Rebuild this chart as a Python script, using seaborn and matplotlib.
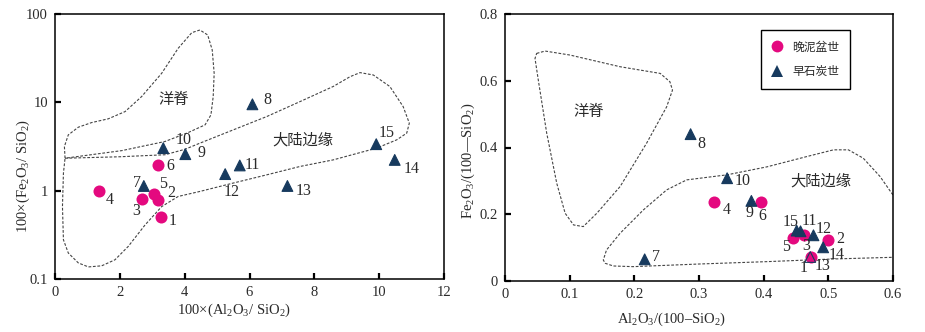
import numpy as np
import pandas as pd
import matplotlib
matplotlib.use("Agg")
import matplotlib.pyplot as plt
from matplotlib.lines import Line2D
from matplotlib.ticker import FixedLocator, FixedFormatter, NullLocator
import seaborn as sns

# ---------------- data ----------------
sample_ids = list(range(1, 16))
periods = ["晚泥盆世"] * 6 + ["早石炭世"] * 9

# left: 100*(Al2O3/SiO2) vs 100*(Fe2O3/SiO2)
left_x = [3.27, 3.18, 2.67, 1.37, 3.05, 3.17, 2.74, 6.09, 4.02, 3.34, 5.70, 5.25, 7.17, 10.48, 9.91]
left_y = [0.50, 0.79, 0.80, 1.00, 0.91, 1.93, 1.13, 9.5, 2.59, 3.03, 1.93, 1.54, 1.13, 2.23, 3.36]

# right: Al2O3/(100-SiO2) vs Fe2O3/(100-SiO2)
right_x = [0.473, 0.499, 0.4625, 0.323, 0.445, 0.3955, 0.216, 0.287, 0.381, 0.3435, 0.457, 0.477, 0.472, 0.492, 0.451]
right_y = [0.071, 0.122, 0.137, 0.238, 0.129, 0.236, 0.065, 0.440, 0.240, 0.308, 0.149, 0.137, 0.072, 0.101, 0.151]

left_xticks = [0, 2, 4, 6, 8, 10, 12]
left_yticks = [0.1, 1, 10, 100]
left_yticklabels = ["0.1", "1", "10", "100"]
right_xticks = [0, 0.1, 0.2, 0.3, 0.4, 0.5, 0.6]
right_xticklabels = ["0", "0.1", "0.2", "0.3", "0.4", "0.5", "0.6"]
right_yticks = [0, 0.2, 0.4, 0.6, 0.8]
right_yticklabels = ["0", "0.2", "0.4", "0.6", "0.8"]

# field boundaries (vertices)
left_ridge_x = [0.31, 0.29, 0.41, 0.72, 1.13, 1.64, 2.16, 2.67, 3.29, 3.80, 4.22, 4.47, 4.71, 4.85,
                4.91, 4.88, 4.81, 4.63, 4.11, 3.39, 2.06, 0.31]
left_ridge_y = [2.33, 3.16, 4.28, 5.23, 5.90, 6.50, 7.85, 11.6, 21.3, 40.9, 61.5, 65.9, 57.9, 39.2,
                21.3, 11.6, 7.21, 5.56, 4.55, 3.60, 2.84, 2.33]
left_margin_x = [0.31, 2.00, 3.39, 4.01, 4.47, 5.50, 6.53, 7.56, 8.58, 9.10, 9.41, 9.82, 10.33, 10.74,
                 10.93, 10.85, 10.54, 9.92, 8.58, 7.56, 6.53, 5.50, 4.47, 3.80, 3.29, 2.78, 2.26,
                 1.85, 1.44, 1.03, 0.72, 0.41, 0.26, 0.23, 0.26, 0.31]
left_margin_y = [2.33, 2.42, 2.55, 2.94, 3.45, 4.88, 6.90, 10.2, 15.1, 19.5, 21.7, 20.4, 15.1, 8.95,
                 5.81, 4.48, 3.76, 3.03, 2.23, 1.88, 1.51, 1.22, 0.98, 0.86, 0.66, 0.41, 0.234,
                 0.165, 0.141, 0.137, 0.152, 0.197, 0.278, 0.66, 1.58, 2.33]
right_ridge_x = [0.049, 0.062, 0.1005, 0.178, 0.240, 0.255, 0.259, 0.250, 0.219, 0.178, 0.142,
                 0.121, 0.106, 0.093, 0.080, 0.0645, 0.0515, 0.0464, 0.049]
right_ridge_y = [0.682, 0.689, 0.677, 0.642, 0.622, 0.597, 0.572, 0.522, 0.413, 0.283, 0.203,
                 0.163, 0.168, 0.203, 0.293, 0.443, 0.602, 0.667, 0.682]
right_margin_x = [0.600, 0.598, 0.580, 0.554, 0.531, 0.508, 0.467, 0.405, 0.343, 0.281, 0.250,
                  0.214, 0.178, 0.157, 0.152, 0.155, 0.1675, 0.198, 0.3015, 0.405, 0.508, 0.600]
right_margin_y = [0.258, 0.263, 0.313, 0.368, 0.393, 0.393, 0.373, 0.342, 0.318, 0.303, 0.273,
                  0.213, 0.143, 0.093, 0.063, 0.053, 0.045, 0.043, 0.051, 0.058, 0.066, 0.071]

# label offsets in pixels (dx, dy)
left_label_offsets = {1: (12, -4), 2: (13, 7), 3: (-5, -12), 4: (10, -9), 5: (9, 10), 6: (13, -1),
                      7: (-7, 3), 8: (15, 4), 9: (16, 1), 10: (20, 8), 11: (13, 0), 12: (6, -18),
                      13: (16, -5), 14: (17, -9), 15: (10, 11)}
right_label_offsets = {1: (-7, -11), 2: (13, 1), 3: (2, -11), 4: (13, -8), 5: (-7, -9), 6: (2, -14),
                       7: (11, 2), 8: (11, -10), 9: (-2, -12), 10: (16, -3), 11: (9, 10), 12: (10, 6),
                       13: (12, -9), 14: (13, -8), 15: (-6, 9)}
right_hollow = [13]

# ---------------- style ----------------
sns.set_style("ticks")
plt.rcParams["font.family"] = ["Liberation Serif", "Noto Sans CJK SC"]
plt.rcParams["mathtext.fontset"] = "custom"
plt.rcParams["mathtext.rm"] = "Liberation Serif"
plt.rcParams["mathtext.it"] = "Liberation Serif:italic"
plt.rcParams["mathtext.default"] = "regular"

PINK = "#E4097F"
NAVY = "#173A5E"
TXT = "#2a2a2a"
CJK = ["Noto Sans CJK SC", "DejaVu Sans"]

W, H = 925, 332
fig = plt.figure(figsize=(W / 100, H / 100), dpi=100)
axL = fig.add_axes([55 / W, (H - 279) / H, 389 / W, 265 / H])
axR = fig.add_axes([505 / W, (H - 281) / H, 388 / W, 267 / H])

dfL = pd.DataFrame({"x": left_x, "y": left_y, "period": periods, "id": sample_ids})
dfR = pd.DataFrame({"x": right_x, "y": right_y, "period": periods, "id": sample_ids})

bound_kw = dict(color="#444444", lw=0.8, ls=(0, (2.5, 1.5)), zorder=1)


def draw_points(ax, df, offsets, hollow=()):
    dev = df[df.period == "晚泥盆世"]
    car = df[df.period == "早石炭世"]
    sns.scatterplot(data=dev, x="x", y="y", marker="o", s=75, color=PINK, linewidth=0,
                    ax=ax, legend=False, zorder=3)
    sns.scatterplot(data=car, x="x", y="y", marker="^", s=60, color=NAVY, edgecolor=NAVY,
                    linewidth=0.8, ax=ax, legend=False, zorder=4)
    coll = ax.collections[-1]
    fc = np.array([matplotlib.colors.to_rgba(NAVY)] * len(car))
    for i, sid in enumerate(car.id):
        if sid in hollow:
            fc[i] = (0, 0, 0, 0)
    coll.set_facecolors(fc)
    coll.set_edgecolors(NAVY)
    for _, r in df.iterrows():
        dx, dy = offsets[int(r.id)]
        ax.annotate(str(int(r.id)), (r.x, r.y), xytext=(dx, dy), textcoords="offset pixels",
                    ha="center", va="center", fontsize=11.5, color=TXT, zorder=5)


def style_axes(ax):
    for s in ax.spines.values():
        s.set_linewidth(1.1)
        s.set_color("black")
        s.set_visible(True)
    ax.tick_params(direction="in", length=4, width=1.6, colors="black", labelcolor=TXT,
                   labelsize=10.5, pad=5, top=False, right=False)
    ax.set_facecolor("white")


# ---------- left panel ----------
axL.plot(left_ridge_x, left_ridge_y, **bound_kw)
axL.plot(left_margin_x, left_margin_y, **bound_kw)
draw_points(axL, dfL, left_label_offsets)
axL.set_yscale("log")
axL.set_xlim(0, 12)
axL.set_ylim(0.1, 100)
axL.xaxis.set_major_locator(FixedLocator(left_xticks))
axL.set_xticklabels([str(t) for t in left_xticks])
axL.yaxis.set_major_locator(FixedLocator(left_yticks))
axL.yaxis.set_major_formatter(FixedFormatter(left_yticklabels))
axL.yaxis.set_minor_locator(NullLocator())
style_axes(axL)
axL.set_xlabel("100×(Al$_2$O$_3$/ SiO$_2$)", fontsize=10.5, color=TXT)
axL.set_ylabel("100×(Fe$_2$O$_3$/ SiO$_2$)", fontsize=10.5, color=TXT)
axL.xaxis.set_label_coords(0.46, -0.085)
axL.yaxis.set_label_coords(-0.06, 0.39)
axL.text(3.65, 10.9, "洋脊", family=CJK, fontsize=11, color=TXT, ha="center", va="center")
axL.text(7.66, 3.76, "大陆边缘", family=CJK, fontsize=11, color=TXT, ha="center", va="center")

# ---------- right panel ----------
axR.plot(right_ridge_x, right_ridge_y, **bound_kw)
axR.plot(right_margin_x, right_margin_y, **bound_kw)
draw_points(axR, dfR, right_label_offsets, hollow=right_hollow)
axR.set_xlim(0, 0.6)
axR.set_ylim(0, 0.8)
axR.xaxis.set_major_locator(FixedLocator(right_xticks))
axR.xaxis.set_major_formatter(FixedFormatter(right_xticklabels))
axR.yaxis.set_major_locator(FixedLocator(right_yticks))
axR.yaxis.set_major_formatter(FixedFormatter(right_yticklabels))
style_axes(axR)
axR.set_xlabel("Al$_2$O$_3$/(100–SiO$_2$)", fontsize=10.5, color=TXT)
axR.set_ylabel("Fe$_2$O$_3$/(100—SiO$_2$)", fontsize=10.5, color=TXT)
axR.xaxis.set_label_coords(0.43, -0.11)
axR.yaxis.set_label_coords(-0.072, 0.45)
axR.text(0.130, 0.509, "洋脊", family=CJK, fontsize=11, color=TXT, ha="center", va="center")
axR.text(0.488, 0.300, "大陆边缘", family=CJK, fontsize=11, color=TXT, ha="center", va="center")

handles = [Line2D([], [], marker="o", ls="none", color=PINK, markersize=8.5, markeredgewidth=0),
           Line2D([], [], marker="^", ls="none", color=NAVY, markersize=8, markeredgewidth=0)]
leg = axR.legend(handles, ["晚泥盆世", "早石炭世"], loc="center", bbox_to_anchor=(0.774, 0.83),
                 frameon=True, fancybox=False, edgecolor="black", framealpha=1,
                 prop={"family": CJK, "size": 8.5}, labelspacing=1.0, borderpad=0.9,
                 handlelength=1.0, handletextpad=0.8, borderaxespad=0)
leg.get_frame().set_linewidth(1.0)
for t in leg.get_texts():
    t.set_color(TXT)

fig.savefig("out.png", dpi=100, facecolor="white")
